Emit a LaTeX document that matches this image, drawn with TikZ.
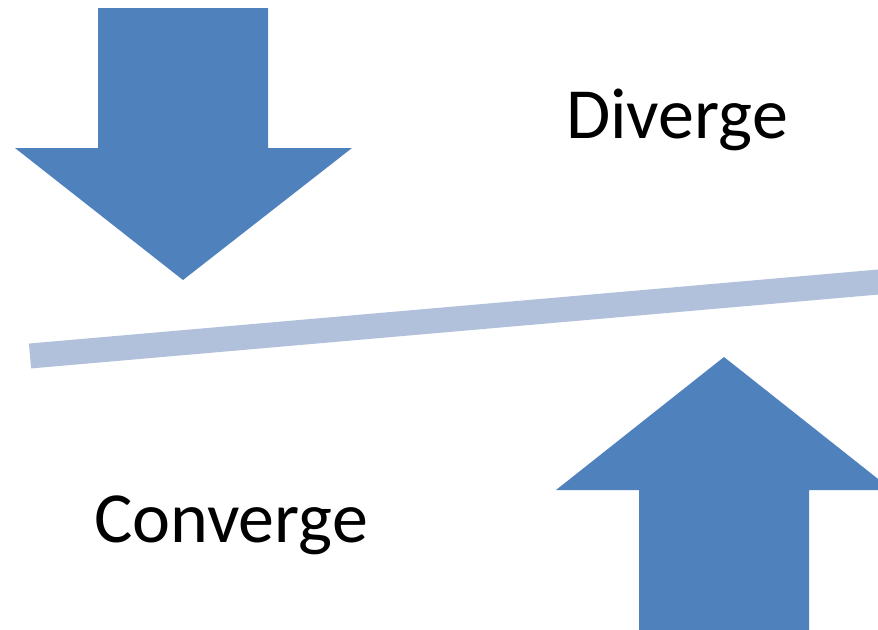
\documentclass[tikz,border=0pt]{standalone}
\usepackage{fontspec}
\setmainfont{Carlito}
\usepackage{tikz}
\definecolor{arrowblue}{RGB}{79,129,189}
\definecolor{barblue}{RGB}{178,193,219}

\begin{document}
\begin{tikzpicture}[x=0.75pt,y=0.75pt,yscale=-1,xscale=1,
    word/.style={anchor=base,inner sep=0pt,font=\fontsize{54}{64}\selectfont}]

        \useasboundingbox (0,0) rectangle (878,629);
        \clip (0,0) rectangle (878,629);
        % down arrow
        \fill [arrowblue] (98,8) -- (268,8) -- (268,148) -- (352,148) -- (183,280) -- (15,148) -- (98,148) -- cycle ;
        % tilted bar
        \draw [barblue, line width=18.75pt]    (30,356) -- (890,281) ;
        % up arrow
        \fill [arrowblue] (639,640) -- (809,640) -- (809,490) -- (892,490) -- (724,357) -- (556,490) -- (639,490) -- cycle ;

        \node [word] (diverge) at (677,138) {Diverge};
        \node [word] (converge) at (231,542) {Converge};
    \end{tikzpicture}
\end{document}
